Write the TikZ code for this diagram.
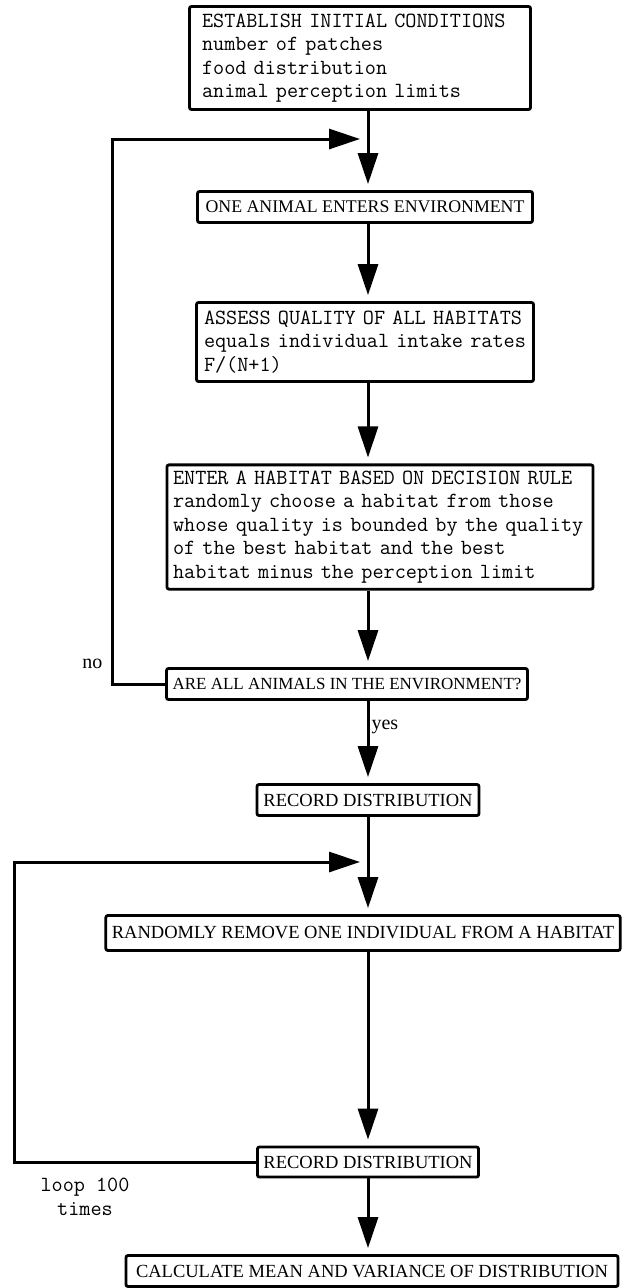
\documentclass[tikz,border=0pt]{standalone}
\usepackage{fontspec}
\newfontfamily\capfont{Liberation Serif}
\usetikzlibrary{arrows.meta}
\tikzset{
  stepbox/.style={draw, line width=2.8pt, rounded corners=2pt, inner sep=6pt},
  typed/.style={font=\fontsize{21.6}{23.5}\selectfont\ttfamily, align=left},
  capped/.style={font=\fontsize{#1}{#1}\selectfont\capfont},
  capped/.default=18.5
}

\begin{document}
\begin{tikzpicture}[x=1pt, y=-1pt]
            \tikzstyle{flow}=[line width=3pt, -{Triangle[length=31pt,width=20pt]}, shorten >=6pt]
            \tikzstyle{back}=[line width=3pt, -{Triangle[length=31pt,width=20pt]}]

            \useasboundingbox (0,0) rectangle (626,1288);
            \coordinate (X) at (368,0);

            \node[stepbox, typed, text width=316pt, minimum width=341pt, minimum height=103pt] (S_1) at (360,58)
                {ESTABLISH INITIAL CONDITIONS\\number of patches\\food distribution\\animal perception limits};
            \node[stepbox, capped=17.8, minimum width=335pt, minimum height=31pt] (S_2) at (365,207) {ONE ANIMAL ENTERS ENVIRONMENT};
            \node[stepbox, typed, text width=322pt, minimum width=337pt, minimum height=79pt] (S_3) at (365,342)
                {ASSESS QUALITY OF ALL HABITATS\\equals individual intake rates\\F/(N+1)};
            \node[stepbox, typed, text width=414pt, minimum width=426pt, minimum height=124pt] (S_4) at (380,527)
                {ENTER A HABITAT BASED ON DECISION RULE\\randomly choose a habitat from those\\whose quality is bounded by the quality\\of the best habitat and the best\\habitat minus the perception limit};
            \node[stepbox, capped=17, minimum width=360pt, minimum height=31pt] (S_5) at (347,684) {ARE ALL ANIMALS IN THE ENVIRONMENT?};
            \node[stepbox, capped, minimum width=222pt, minimum height=31pt] (S_6) at (368,800) {RECORD DISTRIBUTION};
            \node[stepbox, capped, minimum width=501pt, minimum height=35pt] (S_7) at (363,933) {RANDOMLY REMOVE ONE INDIVIDUAL FROM A HABITAT};
            \node[stepbox, capped, minimum width=220pt, minimum height=30pt] (S_8) at (368,1162) {RECORD DISTRIBUTION};
            \node[stepbox, capped, minimum width=492pt, minimum height=31pt] (S_9) at (372,1271) {CALCULATE MEAN AND VARIANCE OF DISTRIBUTION};

            \draw[flow] (S_1.south -| X) -- (S_2.north -| X);
            \draw[flow] (S_2.south -| X) -- (S_3.north -| X);
            \draw[flow] (S_3.south -| X) -- (S_4.north -| X);
            \draw[flow] (S_4.south -| X) -- (S_5.north -| X);
            \draw[flow] (S_5.south -| X) -- (S_6.north -| X) node[capped=20, pos=0.32, right, inner sep=2pt] (yes) {yes};
            \draw[flow] (S_6.south -| X) -- (S_7.north -| X);
            \draw[flow] (S_7.south -| X) -- (S_8.north -| X);
            \draw[flow] (S_8.south -| X) -- (S_9.north -| X);

            \coordinate (L_1) at (112,139);
            \coordinate (M_1) at (360,139);
            \draw[back] (S_5.west) -| (L_1) -- (M_1);
            \node[capped=20, anchor=base east] (no) at (106,668) {no};

            \coordinate (L_2) at (14,862);
            \coordinate (M_2) at (360,862);
            \draw[back] (S_8.west) -| (L_2) -- (M_2);
            \node[typed, align=center] (loop) at (85,1197) {loop 100\\times};
\end{tikzpicture}
\end{document}
